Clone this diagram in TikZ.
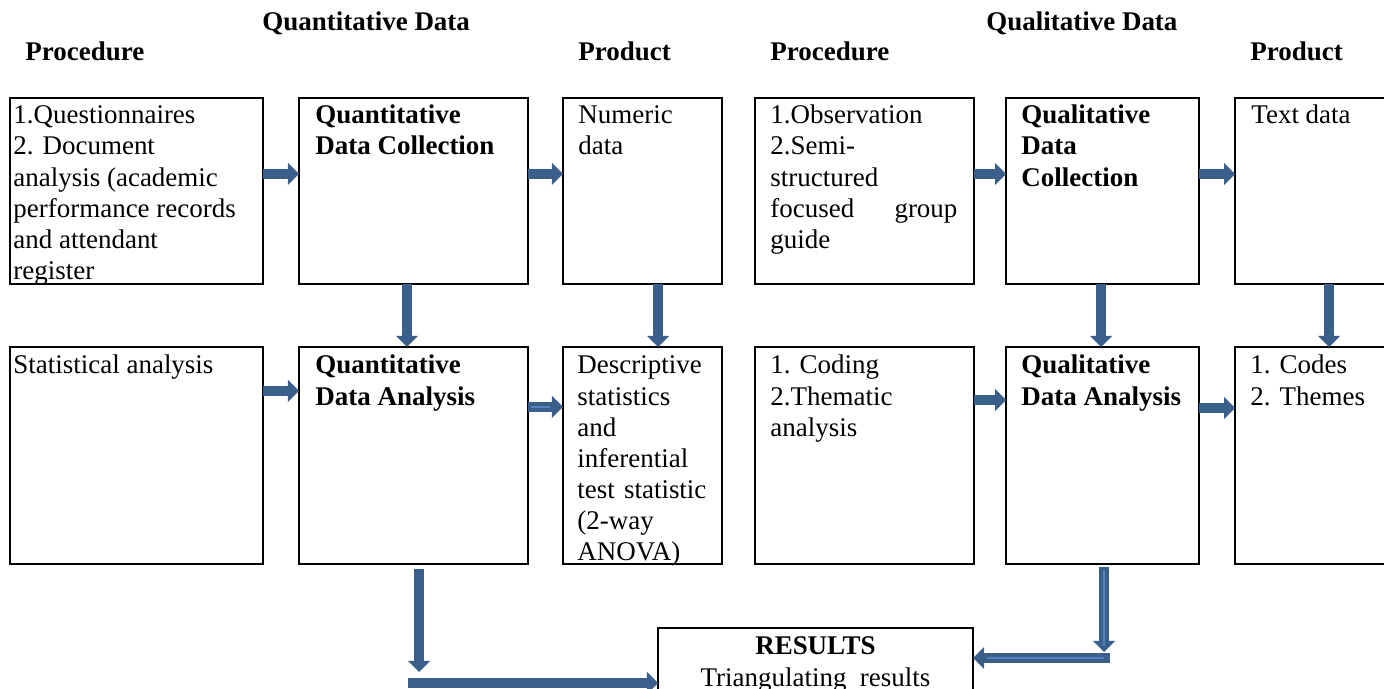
\documentclass[tikz,border=0pt]{standalone}
\usepackage{fontspec}
\setmainfont{Liberation Serif}
\usetikzlibrary{arrows.meta,calc}
\definecolor{arrowblue}{RGB}{58,95,139}
\definecolor{arrowlight}{RGB}{84,130,190}

\begin{document}
\begin{tikzpicture}[x=0.445pt, y=-0.445pt,
  box/.style 2 args={draw, line width=0.9pt, anchor=north west, inner sep=0pt,
    outer sep=0pt, minimum width=#1*0.445pt, minimum height=#2*0.445pt},
  txt/.style={anchor=base west, inner sep=0pt, align=flush left,
    text width=#1*0.445pt, font=\fontsize{12}{13.8}\selectfont},
  txt/.default=240,
  head/.style={anchor=base west, inner sep=0pt,
    font=\fontsize{12}{13.8}\selectfont\bfseries},
  barrow/.style={draw=arrowblue, line width=4.6pt,
    -{Triangle[width=9.8pt, length=4.9pt, line width=0pt]}},
  hl/.style={draw=arrowlight, line width=0.9pt}]
  \useasboundingbox (0,0) rectangle (1384,689);

  \node[head] (qnhead) at (262,31) {Quantitative Data};
  \node[head] (qlhead) at (986,31) {Qualitative Data};
  \node[head] (qnproc) at (25,61) {Procedure};
  \node[head] (qnprod) at (578,61) {Product};
  \node[head] (qlproc) at (770,61) {Procedure};
  \node[head] (qlprod) at (1250,61) {Product};

  \node[box={253}{186}] (a) at (10,98) {};
  \node[box={229}{186}] (b) at (299,98) {};
  \node[box={159}{186}] (c) at (563,98) {};
  \node[box={219}{186}] (d) at (755,98) {};
  \node[box={193}{186}] (e) at (1006,98) {};
  \node[box={170}{186}] (f) at (1235,98) {};

  \node[box={253}{217}] (a2) at (10,347) {};
  \node[box={229}{217}] (b2) at (299,347) {};
  \node[box={159}{217}] (c2) at (563,347) {};
  \node[box={219}{217}] (d2) at (755,347) {};
  \node[box={193}{217}] (e2) at (1006,347) {};
  \node[box={170}{217}] (f2) at (1235,347) {};

  \node[box={315}{106}] (res) at (658,628) {};

  \node[txt=250] (a-t) at (13,124) {1.Questionnaires\\ 2. Document\\ analysis (academic\\ performance records\\ and attendant\\ register};
  \node[txt] (b-t) at (315,124) {\bfseries Quantitative\\ Data Collection};
  \node[txt=140] (c-t) at (578,124) {Numeric\\ data};
  \node[txt=187] (d-t) at (770,124) {1.Observation\\ 2.Semi-\\ structured\\ focused \hfill group\\ guide};
  \node[txt=170] (e-t) at (1021,124) {\bfseries Qualitative\\ Data\\ Collection};
  \node[txt=130] (f-t) at (1251,124) {Text data};

  \node[txt=250] (a2-t) at (13,374) {Statistical analysis};
  \node[txt] (b2-t) at (315,374) {\bfseries Quantitative\\ Data Analysis};
  \node[txt=129] (c2-t) at (577,374) {Descriptive\\ statistics\\ and\\ inferential\\ test \hfill statistic\\ (2-way\\ ANOVA)};
  \node[txt=200] (d2-t) at (770,374) {1. Coding\\ 2.Thematic\\ analysis};
  \node[txt=175] (e2-t) at (1021,374) {\bfseries Qualitative\\ Data Analysis};
  \node[txt=130] (f2-t) at (1250,374) {1. Codes\\ 2. Themes};

  \node[txt=300, anchor=base, align=flush center] (res-t) at (815.5,655) {\textbf{RESULTS}\\ Triangulating \ results};

  \draw[barrow] ($(a.east)+(0,-17)$) -- ($(b.west)+(0,-17)$);
  \draw[barrow] ($(b.east)+(0,-17)$) -- ($(c.west)+(0,-17)$);
  \draw[barrow] ($(d.east)+(0,-17)$) -- ($(e.west)+(0,-17)$);
  \draw[barrow] ($(e.east)+(0,-17)$) -- ($(f.west)+(0,-17)$);

  \draw[barrow] ($(b.south)+(-6.5,0)$) -- ($(b2.north)+(-6.5,0)$);
  \draw[barrow] ($(c.south)+(15.5,0)$) -- ($(c2.north)+(15.5,0)$);
  \draw[barrow] ($(e.south)+(-1.5,0)$) -- ($(e2.north)+(-1.5,0)$);
  \draw[barrow] ($(f.south)+(9,0)$) -- ($(f2.north)+(9,0)$);

  \draw[barrow] ($(a2.east)+(0,-64.5)$) -- ($(b2.west)+(0,-64.5)$);
  \draw[barrow] ($(b2.east)+(0,-48.5)$) -- ($(c2.west)+(0,-48.5)$);
  \draw[hl] ($(b2.east)+(3,-48.5)$) -- ($(c2.west)+(-13,-48.5)$);
  \draw[barrow] ($(d2.east)+(0,-55.5)$) -- ($(e2.west)+(0,-55.5)$);
  \draw[barrow] ($(e2.east)+(0,-47.5)$) -- ($(f2.west)+(0,-47.5)$);

  \coordinate (qnbend) at (419,672);
  \coordinate (qnstart) at (408,683);
  \draw[barrow] ($(b2.south)+(5.5,5)$) -- (qnbend);
  \draw[barrow] (qnstart) -- ($(res.west)+(0,2)$);

  \coordinate (qlbend) at (1104,652);
  \coordinate (qlstart) at (1110,658);
  \draw[barrow] ($(e2.south)+(1.5,3)$) -- (qlbend);
  \draw[barrow] (qlstart) -- ($(res.east)+(0,-23)$);
  \draw[hl] ($(e2.south)+(1.5,6)$) -- (1104,646);
  \draw[hl] (1104,658) -- ($(res.east)+(14,-23)$);
\end{tikzpicture}
\end{document}
